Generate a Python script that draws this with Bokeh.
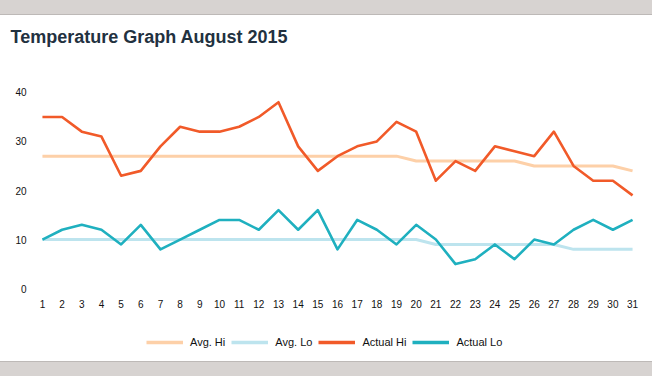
from bokeh.plotting import figure
from bokeh.models import Range1d, Legend, LegendItem, FixedTicker
from bokeh.layouts import column
from bokeh.embed import file_html
from bokeh.resources import INLINE

days = list(range(1, 32))
avg_hi = [27]*19 + [26]*6 + [25]*5 + [24]
avg_lo = [10]*20 + [9]*7 + [8]*4
actual_hi = [35, 35, 32, 31, 23, 24, 29, 33, 32, 32, 33, 35, 38, 29, 24,
             27, 29, 30, 34, 32, 22, 26, 24, 29, 28, 27, 32, 25, 22, 22, 19]
actual_lo = [10, 12, 13, 12, 9, 13, 8, 10, 12, 14, 14, 12, 16, 12, 16,
             8, 14, 12, 9, 13, 10, 5, 6, 9, 6, 10, 9, 12, 14, 12, 14]
y_ticks = [0, 10, 20, 30, 40]
series_names = ["Avg. Hi", "Avg. Lo", "Actual Hi", "Actual Lo"]
colors = ["#fdd0a8", "#bde4ee", "#f15a29", "#1fb0bf"]
widths = [3, 3, 2.6, 2.6]
series = [avg_hi, avg_lo, actual_hi, actual_lo]

FONT = "Liberation Sans"

# ---- title strip ----
t = figure(width=652, height=60, output_backend="svg", toolbar_location=None,
           x_range=Range1d(0, 1), y_range=Range1d(0, 1),
           x_axis_location=None, y_axis_location=None,
           min_border_left=38, min_border_right=16, min_border_top=46, min_border_bottom=0)
t.grid.visible = False
t.outline_line_color = None
t.background_fill_alpha = 0
t.border_fill_alpha = 0
t.styles = {"background": "linear-gradient(to bottom, #d7d3d1 0px, #d7d3d1 14px, "
                          "#bdb9b7 14px, #bdb9b7 15px, #ffffff 15px, #ffffff 60px)"}
t.title.text = "Temperature Graph August 2015"
t.title.text_font = FONT
t.title.text_font_style = "bold"
t.title.text_font_size = "18px"
t.title.text_color = "#22313f"
t.title.standoff = 0
t.title.offset = -28

# ---- main chart ----
p = figure(width=652, height=265, output_backend="svg", toolbar_location=None,
           x_range=Range1d(0.8, 31.2), y_range=Range1d(-1, 41),
           min_border_left=38, min_border_right=16, min_border_top=27,
           min_border_bottom=32)
p.outline_line_color = None
p.background_fill_color = "white"
p.border_fill_color = "white"
p.xgrid.visible = False
p.ygrid.visible = False

for data, c, w in zip(series, colors, widths):
    p.line(days, data, line_color=c, line_width=w, line_join="round")

for ax in (p.xaxis, p.yaxis):
    ax.axis_line_color = None
    ax.major_tick_line_color = None
    ax.minor_tick_line_color = None
    ax.major_label_text_font = FONT
    ax.major_label_text_font_size = "10px"
    ax.major_label_text_color = "#111111"

p.xaxis.ticker = FixedTicker(ticks=days)
p.yaxis.ticker = FixedTicker(ticks=y_ticks)
p.xaxis.major_label_standoff = 0
p.yaxis.major_label_standoff = 6

# ---- legend strip ----
q = figure(width=652, height=51, output_backend="svg", toolbar_location=None,
           x_range=Range1d(100, 101), y_range=Range1d(100, 101),
           x_axis_location=None, y_axis_location=None,
           min_border_left=38, min_border_right=16, min_border_top=0, min_border_bottom=0)
q.grid.visible = False
q.outline_line_color = None
q.background_fill_alpha = 0
q.border_fill_alpha = 0
q.styles = {"background": "linear-gradient(to bottom, #ffffff 0px, #ffffff 36px, "
                          "#bdb9b7 36px, #bdb9b7 37px, #d7d3d1 37px, #d7d3d1 51px)"}
# legend keys: same series, drawn outside the visible range of this strip
proxies = [q.line(days, data, line_color=c, line_width=3.5) for data, c in zip(series, colors)]

legend = Legend(items=[LegendItem(label=n, renderers=[r]) for n, r in zip(series_names, proxies)],
                orientation="horizontal", location=(108, 26), glyph_width=37, glyph_height=16,
                label_standoff=7, spacing=6, border_line_color=None, padding=0,
                label_text_font=FONT, label_text_font_size="11px", label_text_color="#111111",
                background_fill_alpha=0, margin=0)
q.add_layout(legend, "center")

layout = column(t, p, q, spacing=0)
open("out.html", "w").write(file_html(layout, INLINE))
